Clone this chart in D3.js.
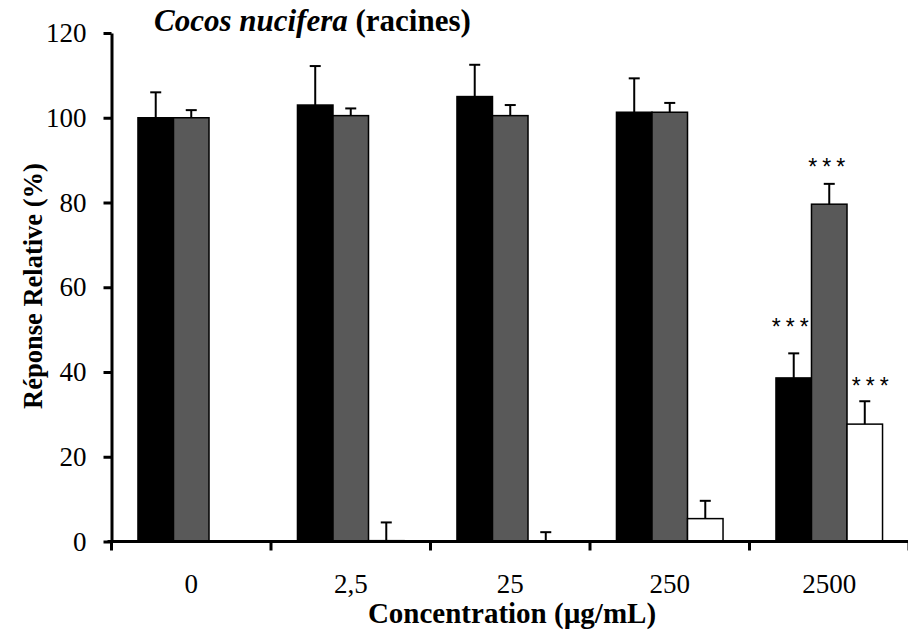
<!DOCTYPE html>
<html><head><meta charset="utf-8">
<script src="https://cdn.jsdelivr.net/npm/d3@7"></script>
<style>body{margin:0;background:#fff}</style>
</head><body>
<svg id="c" width="908" height="639"></svg>
<script>
const categories = ["0", "2,5", "25", "250", "2500"];
const seriesNames = ["s1", "s2", "s3"];
const blackValues = [100, 103, 105, 101.3, 38.6];
const blackErrors = [6, 9.2, 7.5, 8, 5.8];
const grayValues  = [100, 100.5, 100.5, 101.3, 79.6];
const grayErrors  = [1.8, 1.7, 2.5, 2.2, 4.8];
const whiteValues = [null, 0.2, 0, 5.4, 27.7];
const whiteErrors = [null, 4.3, 2.2, 4.2, 5.4];
const blackStars = ["", "", "", "", "***"];
const grayStars  = ["", "", "", "", "***"];
const whiteStars = ["", "", "", "", "***"];
const yTicks = [0, 20, 40, 60, 80, 100, 120];
const colors = ["#000000", "#595959", "#ffffff"];

const series = [
  {values: blackValues, errors: blackErrors, stars: blackStars},
  {values: grayValues, errors: grayErrors, stars: grayStars},
  {values: whiteValues, errors: whiteErrors, stars: whiteStars}
];
// star label placement style (lift above error cap, horizontal nudge)
const starLift = [18, 9, 7];
const starNudge = [-1, 0, 8];

const svg = d3.select("#c");
const x0 = 111.5, x1 = 909, yBot = 541.5, yTop = 33;
const x = d3.scaleBand().domain(categories).range([x0, x1]).paddingInner(0).paddingOuter(0);
const xs = d3.scaleBand().domain(seriesNames).range([0, x.bandwidth()]).paddingInner(0).paddingOuter(0.745);
const y = d3.scaleLinear().domain([0, 120]).range([yBot, yTop]);

const font = "'Liberation Serif','Times New Roman',serif";

// bars
series.forEach((s, si) => {
  const g = svg.append("g");
  categories.forEach((c, ci) => {
    const v = s.values[ci];
    if (v === null) return;
    const bx = x(c) + xs(seriesNames[si]);
    const bw = xs.bandwidth();
    g.append("rect")
      .attr("x", bx).attr("y", y(v))
      .attr("width", bw).attr("height", Math.max(0, y(0) - y(v)))
      .attr("fill", colors[si]).attr("stroke", "#000").attr("stroke-width", 1.5);
    const cx = bx + bw / 2;
    const et = y(v + s.errors[ci]);
    g.append("line").attr("x1", cx).attr("x2", cx).attr("y1", y(v)).attr("y2", et)
      .attr("stroke", "#000").attr("stroke-width", 2);
    g.append("line").attr("x1", cx - 5.5).attr("x2", cx + 5.5).attr("y1", et).attr("y2", et)
      .attr("stroke", "#000").attr("stroke-width", 2);
    if (s.stars[ci]) {
      g.append("text").attr("x", cx + starNudge[si]).attr("y", et - starLift[si])
        .attr("text-anchor", "middle")
        .style("font-family", "'Liberation Sans',Arial,sans-serif")
        .style("font-size", "23px").style("letter-spacing", "5px")
        .text(s.stars[ci]);
    }
  });
});

// y axis
const yAxis = d3.axisLeft(y).tickValues(yTicks).tickSize(8).tickPadding(17).tickSizeOuter(0);
const gy = svg.append("g").attr("transform", `translate(${x0},0)`).call(yAxis);
gy.select(".domain").attr("stroke-width", 3);
gy.selectAll(".tick line").attr("stroke-width", 3);
gy.selectAll(".tick text").style("font-family", font).style("font-size", "27px").attr("fill", "#000");

// x axis
const xAxis = d3.axisBottom(x).tickSize(0).tickPadding(0).tickSizeOuter(0);
const gx = svg.append("g").attr("transform", `translate(0,${yBot})`).call(xAxis);
gx.select(".domain").attr("stroke-width", 3).attr("d", `M${x0 - 4},0H${x1}`);
gx.selectAll(".tick text").attr("dy", 0).attr("y", 51).style("font-family", font).style("font-size", "27px").attr("fill", "#000");
// boundary ticks
const bounds = categories.map(c => x(c)).concat([x1]);
gx.selectAll(".btick").data(bounds).join("line").attr("class", "btick")
  .attr("x1", d => d).attr("x2", d => d).attr("y1", 0).attr("y2", 9)
  .attr("stroke", "#000").attr("stroke-width", 3);

// titles
const t = svg.append("text").attr("x", 154).attr("y", 31)
  .style("font-family", font).style("font-size", "31px").style("font-weight", "bold");
t.append("tspan").style("font-style", "italic").text("Cocos nucifera");
t.append("tspan").text(" (racines)");

svg.append("text").attr("x", 512).attr("y", 623).attr("text-anchor", "middle")
  .style("font-family", font).style("font-size", "29px").style("font-weight", "bold")
  .text("Concentration (µg/mL)");

svg.append("text").attr("transform", "translate(42,286) rotate(-90)").attr("text-anchor", "middle")
  .style("font-family", font).style("font-size", "26.5px").style("font-weight", "bold")
  .text("Réponse Relative (%)");
</script>
</body></html>
